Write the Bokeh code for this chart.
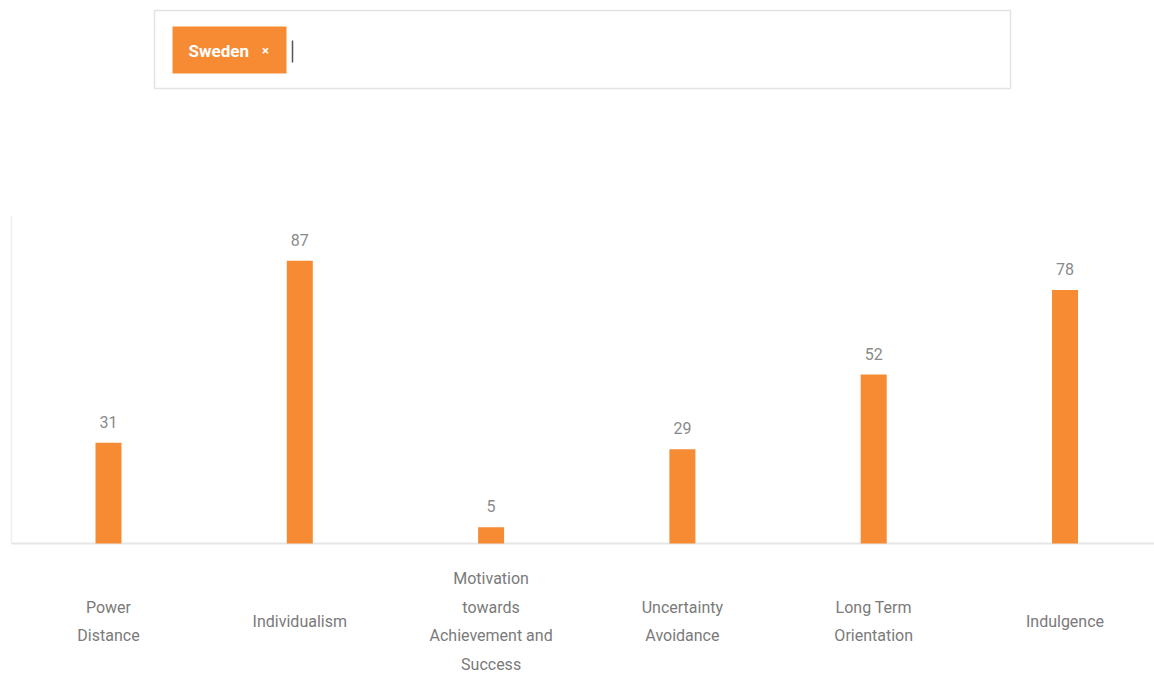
from bokeh.plotting import figure
from bokeh.models import Range1d, ColumnDataSource
from bokeh.core.properties import value
from bokeh.embed import file_html
from bokeh.resources import INLINE

# ---- data ----
country = "Sweden"
categories = ["Power Distance", "Individualism",
              "Motivation towards Achievement and Success",
              "Uncertainty Avoidance", "Long Term Orientation", "Indulgence"]
category_lines = [["Power", "Distance"], ["Individualism"],
                  ["Motivation", "towards", "Achievement and", "Success"],
                  ["Uncertainty", "Avoidance"], ["Long Term", "Orientation"],
                  ["Indulgence"]]
scores = [31, 87, 5, 29, 52, 78]

# ---- layout helpers (canvas pixel -> data) ----
W, H = 1154, 673
PX_PER_CAT = 191.3
CAT0_PX = 108.0
BASE_PY = 543.0
PX_PER_UNIT = 3.25


def X(px):
    return (px - CAT0_PX) / PX_PER_CAT


def Y(py):
    return (BASE_PY - py) / PX_PER_UNIT


def DX(dpx):
    return dpx / PX_PER_CAT


def DY(dpx):
    return dpx / PX_PER_UNIT


ORANGE = "#F68B33"
FONT = value("Roboto")

p = figure(width=W, height=H, output_backend="svg", toolbar_location=None,
           x_range=Range1d(X(0), X(W)), y_range=Range1d(Y(H), Y(0)),
           min_border=0, min_border_left=0, min_border_right=0,
           min_border_top=0, min_border_bottom=0)
p.axis.visible = False
p.grid.visible = False
p.outline_line_color = None
p.background_fill_color = "white"
p.border_fill_color = "white"

# ---- search box ----
p.quad(left=[X(154)], right=[X(1010)], top=[Y(10)], bottom=[Y(88)],
       fill_color="white", line_color="#e3e3e3", line_width=1.5)
p.quad(left=[X(172)], right=[X(286)], top=[Y(26)], bottom=[Y(73)],
       fill_color=ORANGE, line_color=None)
p.text(x=[X(188)], y=[Y(50)], text=[country], text_color="white",
       text_font=FONT, text_font_style="bold", text_font_size="17px",
       text_baseline="middle", text_align="left")
p.text(x=[X(265)], y=[Y(50)], text=["×"], text_color="white",
       text_font=FONT, text_font_style="bold", text_font_size="13px",
       text_baseline="middle", text_align="center")
p.segment(x0=[X(292)], y0=[Y(40)], x1=[X(292)], y1=[Y(62)],
          line_color="#555555", line_width=1.5)

# ---- axes lines ----
p.segment(x0=[X(11)], y0=[0], x1=[X(11)], y1=[Y(215)],
          line_color="#eeeeee", line_width=1.5)
p.segment(x0=[X(11)], y0=[0], x1=[X(W)], y1=[0],
          line_color="#e6e6e6", line_width=2)

# ---- bars ----
xs = list(range(len(categories)))
src = ColumnDataSource(dict(x=xs, top=scores, label=[str(v) for v in scores],
                            ly=[v + DY(21) for v in scores]))
p.vbar(x="x", top="top", bottom=0, width=DX(26), source=src,
       fill_color=ORANGE, line_color=None)
p.text(x="x", y="ly", text="label", source=src, text_color="#8a8a8a",
       text_font=FONT, text_font_size="16px", text_align="center",
       text_baseline="middle")

# ---- category labels ----
LINE_H = 28.7
lx, ly, lt = [], [], []
for i, lines in enumerate(category_lines):
    n = len(lines)
    for k, t in enumerate(lines):
        lx.append(i)
        ly.append(Y(621 + (k - (n - 1) / 2) * LINE_H))
        lt.append(t)
p.text(x=lx, y=ly, text=lt, text_color="#7a7a7a", text_font=FONT,
       text_font_size="16px", text_align="center", text_baseline="middle")

open("out.html", "w").write(file_html(p, INLINE))
